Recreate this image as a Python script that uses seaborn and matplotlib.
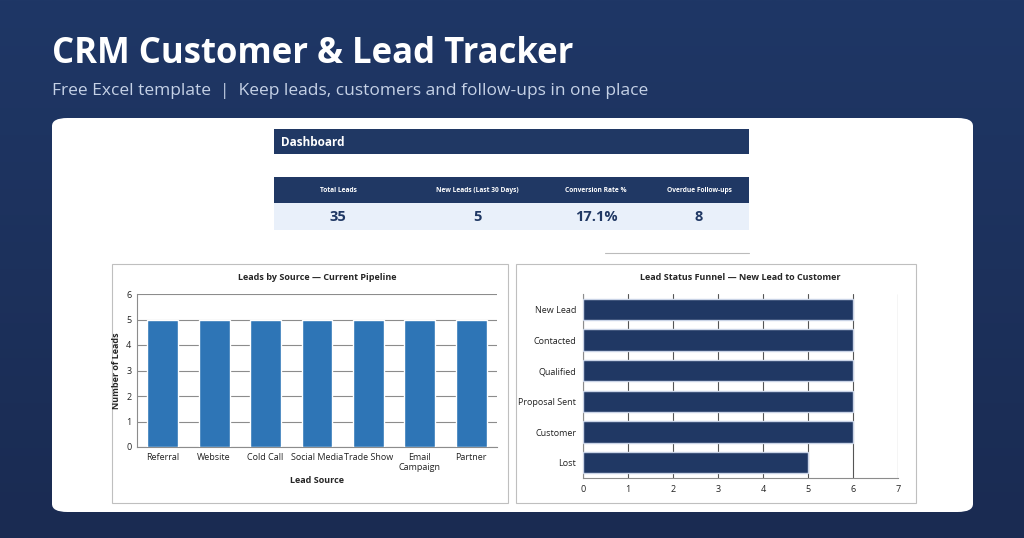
import numpy as np
import matplotlib
matplotlib.use("Agg")
import matplotlib.pyplot as plt
from matplotlib.patches import FancyBboxPatch, Rectangle
import seaborn as sns

sns.set_theme(style="white")
plt.rcParams['font.family'] = ['Open Sans', 'DejaVu Sans']

sources = ["Referral", "Website", "Cold Call", "Social Media", "Trade Show", "Email\nCampaign", "Partner"]
source_counts = [5, 5, 5, 5, 5, 5, 5]
stages = ["New Lead", "Contacted", "Qualified", "Proposal Sent", "Customer", "Lost"]
stage_counts = [6, 6, 6, 6, 6, 5]
kpi_labels = ["Total Leads", "New Leads (Last 30 Days)", "Conversion Rate %", "Overdue Follow-ups"]
kpi_values = ["35", "5", "17.1%", "8"]

W, H = 1024, 538
fig = plt.figure(figsize=(10.24, 5.38), dpi=100)

def box(x0, y0, x1, y1):
    return [x0 / W, 1 - y1 / H, (x1 - x0) / W, (y1 - y0) / H]

# background gradient
bg = fig.add_axes([0, 0, 1, 1])
grad = np.linspace(0, 1, 256).reshape(-1, 1)
from matplotlib.colors import LinearSegmentedColormap
cm = LinearSegmentedColormap.from_list("g", ["#1f3766", "#1a2b52"])
bg.imshow(grad, aspect="auto", cmap=cm, extent=[0, 1, 0, 1])
bg.set_xlim(0, 1); bg.set_ylim(0, 1); bg.axis("off")

fig.text(52 / W, 1 - 54 / H, "CRM Customer & Lead Tracker", color="white",
         fontsize=25, fontweight="bold", va="center", ha="left")
fig.text(52 / W, 1 - 91 / H, "Free Excel template  |  Keep leads, customers and follow-ups in one place",
         color="#c5d1e6", fontsize=12.5, va="center", ha="left")

# white panel
panel = FancyBboxPatch((52 / W, 1 - 512 / H), (973 - 52) / W, (512 - 118) / H,
                       boxstyle="round,pad=0,rounding_size=0.015", transform=fig.transFigure,
                       facecolor="white", edgecolor="none", zorder=1)
fig.patches.append(panel)

navy = "#203864"
def frect(x0, y0, x1, y1, color, **kw):
    fig.patches.append(Rectangle((x0 / W, 1 - y1 / H), (x1 - x0) / W, (y1 - y0) / H,
                                 transform=fig.transFigure, facecolor=color, edgecolor="none", zorder=2, **kw))

frect(274, 129, 749, 154, navy)
fig.text(281 / W, 1 - 142 / H, "Dashboard", color="white", fontsize=8.5, fontweight="bold", va="center", zorder=3)
frect(274, 177, 749, 203, navy)
frect(274, 203, 749, 230, "#e9f0fa")
kx = [338, 477, 596, 699]
for x, lab, val in zip(kx, kpi_labels, kpi_values):
    fig.text(x / W, 1 - 190 / H, lab, color="white", fontsize=4.8, fontweight="bold", ha="center", va="center", zorder=3)
    fig.text(x / W, 1 - 217 / H, val, color=navy, fontsize=10.5, fontweight="bold", ha="center", va="center", zorder=3)
fig.lines.append(plt.Line2D([605 / W, 749 / W], [1 - 253 / H] * 2, transform=fig.transFigure, color="#bbbbbb", lw=0.8))

# chart frames
for x0, x1 in [(112, 508), (516, 916)]:
    fig.patches.append(Rectangle((x0 / W, 1 - 503 / H), (x1 - x0) / W, (503 - 264) / H,
                                 transform=fig.transFigure, facecolor="white", edgecolor="#bfbfbf", lw=0.8, zorder=2))

# left chart
ax1 = fig.add_axes(box(137, 294, 497, 447))
ax1.set_zorder(5)
sns.barplot(x=sources, y=source_counts, color="#2e75b6", width=0.6, ax=ax1, zorder=3, saturation=1)
ax1.set_ylim(0, 6)
ax1.set_yticks(range(7))
ax1.grid(axis="y", color="#8c8c8c", lw=0.8, zorder=0)
ax1.set_axisbelow(True)
for s in ["top", "right"]:
    ax1.spines[s].set_visible(False)
for s in ["left", "bottom"]:
    ax1.spines[s].set_color("#8c8c8c"); ax1.spines[s].set_linewidth(0.8)
ax1.tick_params(labelsize=6.5, colors="#222222", length=0, pad=4)
ax1.set_xlabel("Lead Source", fontsize=6.5, fontweight="bold", labelpad=3)
ax1.set_ylabel("Number of Leads", fontsize=6.5, fontweight="bold")
ax1.set_title("Leads by Source — Current Pipeline", fontsize=6.5, fontweight="bold", pad=10)
ax1.set_facecolor("white")

# right chart
ax2 = fig.add_axes(box(583, 294, 898, 478))
ax2.set_zorder(5)
sns.barplot(x=stage_counts, y=stages, orient="h", color=navy, width=0.7, ax=ax2, zorder=3,
            saturation=1, edgecolor="#c9d3e6", linewidth=1.0)
ax2.set_xlim(0, 7)
ax2.set_xticks(range(8))
ax2.grid(axis="x", color="#555555", lw=0.8, zorder=0)
ax2.set_axisbelow(True)
for s in ["top", "right"]:
    ax2.spines[s].set_visible(False)
for s in ["left", "bottom"]:
    ax2.spines[s].set_color("#8c8c8c"); ax2.spines[s].set_linewidth(0.8)
ax2.tick_params(labelsize=6.5, colors="#222222", length=0, pad=5)
ax2.set_xlabel(""); ax2.set_ylabel("")
ax2.set_title("Lead Status Funnel — New Lead to Customer", fontsize=6.5, fontweight="bold", pad=10)
ax2.set_facecolor("white")

fig.savefig("out.png", dpi=100)
